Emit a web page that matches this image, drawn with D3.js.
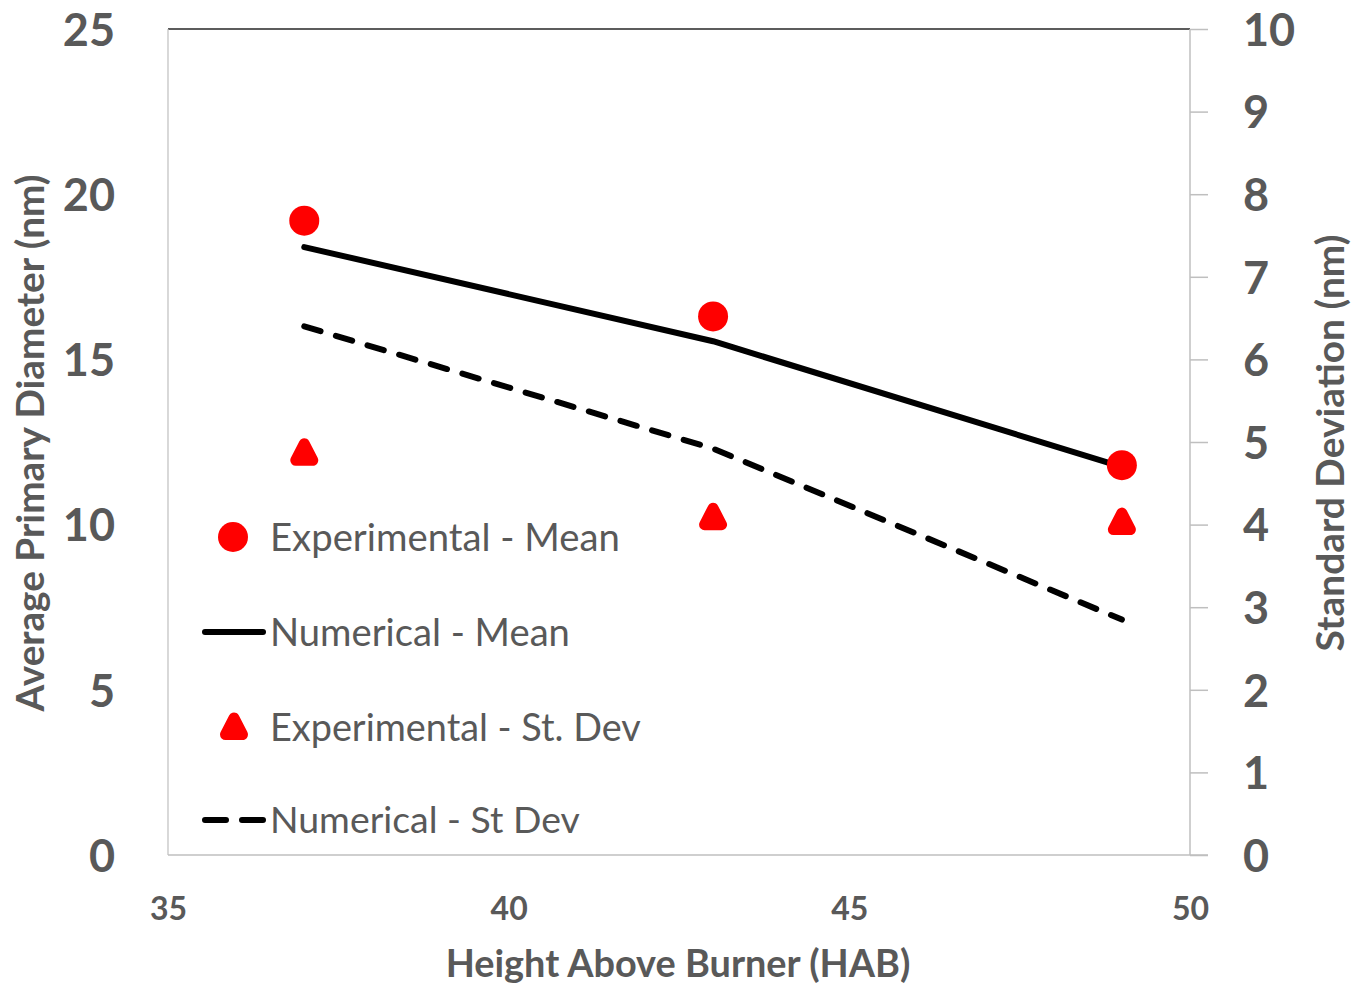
<!DOCTYPE html>
<html><head><meta charset="utf-8">
<script src="https://cdn.jsdelivr.net/npm/d3@7"></script>
<style>body{margin:0;background:#fff}svg{display:block}</style>
</head><body>
<svg id="c" width="1364" height="986"></svg>
<script>
// Data
const hab = [37, 43, 49];
const expMean = [19.2, 16.3, 11.8];       // left axis (nm)
const numMean = [18.4, 15.55, 11.75];     // left axis (nm)
const expStd = [4.87, 4.09, 4.03];        // right axis (nm)
const numStd = [6.4, 4.92, 2.85];         // right axis (nm)
const xTicks = [35, 40, 45, 50];
const yLeftTicks = [0, 5, 10, 15, 20, 25];
const yRightTicks = [0,1,2,3,4,5,6,7,8,9,10];
const legendLabels = ["Experimental - Mean", "Numerical - Mean", "Experimental - St. Dev", "Numerical - St Dev"];

const svg = d3.select("#c");
const L = 168, R = 1190, T = 29, B = 855;
const x = d3.scaleLinear().domain([35, 50]).range([L, R]);
const yL = d3.scaleLinear().domain([0, 25]).range([B, T]);
const yR = d3.scaleLinear().domain([0, 10]).range([B, T]);
const txt = "#595959", font = "Lato, 'Open Sans', sans-serif";

function fit(sel, w){ const n = sel.node(); const l = n.getComputedTextLength(); const fs = parseFloat(sel.attr("font-size")); sel.attr("font-size", fs * w / l); }

// frame
svg.append("line").attr("x1", L).attr("x2", R).attr("y1", T).attr("y2", T).attr("stroke", "#262626").attr("stroke-width", 1.5);
svg.append("line").attr("x1", L).attr("x2", L).attr("y1", T).attr("y2", B).attr("stroke", "#bfbfbf").attr("stroke-width", 1.2);

// bottom axis
const gx = svg.append("g").attr("transform", `translate(0,${B})`)
  .call(d3.axisBottom(x).tickValues(xTicks).tickSize(0).tickPadding(49).tickFormat(d3.format("d")));
gx.select(".domain").attr("stroke", "#bfbfbf").attr("stroke-width", 1.5).attr("d", `M${L},0H1208`);
gx.selectAll("text").attr("fill", txt).attr("font-family", font).attr("font-weight", "bold").attr("font-size", 32).attr("dy", "0.5em");

// left axis
const gl = svg.append("g").attr("transform", `translate(${L},0)`)
  .call(d3.axisLeft(yL).tickValues(yLeftTicks).tickSize(0).tickPadding(53));
gl.select(".domain").remove();
gl.selectAll("text").attr("fill", txt).attr("font-family", font).attr("font-weight", "bold").attr("font-size", 45).attr("dy", "0.36em");

// right axis
const gr = svg.append("g").attr("transform", `translate(${R},0)`)
  .call(d3.axisRight(yR).tickValues(yRightTicks).tickSize(18).tickPadding(35));
gr.select(".domain").attr("stroke", "#bfbfbf").attr("stroke-width", 1.5).attr("d", `M0,${T}V${B}`);
gr.selectAll(".tick line").attr("stroke", "#bfbfbf").attr("stroke-width", 1.5);
gr.selectAll("text").attr("fill", txt).attr("font-family", font).attr("font-weight", "bold").attr("font-size", 45).attr("dy", "0.36em");

// axis titles
const tl = svg.append("text").attr("transform", "translate(44,443) rotate(-90)").attr("text-anchor", "middle")
  .attr("fill", txt).attr("font-family", font).attr("font-weight", "bold").attr("font-size", 30).text("Average Primary Diameter (nm)");
fit(tl, 537);
const tr = svg.append("text").attr("transform", "translate(1344,443) rotate(-90)").attr("text-anchor", "middle")
  .attr("fill", txt).attr("font-family", font).attr("font-weight", "bold").attr("font-size", 30).text("Standard Deviation (nm)");
fit(tr, 417);
const tb = svg.append("text").attr("x", 678).attr("y", 977).attr("text-anchor", "middle")
  .attr("fill", txt).attr("font-family", font).attr("font-weight", "bold").attr("font-size", 30).text("Height Above Burner (HAB)");
fit(tb, 465);

// series
const lineL = d3.line().x((d, i) => x(hab[i])).y(d => yL(d));
const lineR = d3.line().x((d, i) => x(hab[i])).y(d => yR(d));
svg.append("path").attr("d", lineL(numMean)).attr("fill", "none").attr("stroke", "#000").attr("stroke-width", 6).attr("stroke-linecap", "round").attr("stroke-linejoin", "round");
svg.append("path").attr("d", lineR(numStd)).attr("fill", "none").attr("stroke", "#000").attr("stroke-width", 6).attr("stroke-linecap", "round").attr("stroke-linejoin", "round").attr("stroke-dasharray", "17,16");

const tri = "M0,-9L8.5,7.5L-8.5,7.5Z";
svg.selectAll(".em").data(expMean).join("circle").attr("cx", (d, i) => x(hab[i])).attr("cy", d => yL(d)).attr("r", 15).attr("fill", "#ff0000");
svg.selectAll(".es").data(expStd).join("path").attr("d", tri).attr("transform", (d, i) => `translate(${x(hab[i])},${yR(d)})`)
  .attr("fill", "#ff0000").attr("stroke", "#ff0000").attr("stroke-width", 11).attr("stroke-linejoin", "round");

// legend
const ly = [537, 632, 727, 820];
const lg = svg.append("g");
lg.append("circle").attr("cx", 233).attr("cy", ly[0]).attr("r", 15).attr("fill", "#ff0000");
lg.append("line").attr("x1", 205).attr("x2", 263).attr("y1", ly[1]).attr("y2", ly[1]).attr("stroke", "#000").attr("stroke-width", 6).attr("stroke-linecap", "round");
lg.append("path").attr("d", tri).attr("transform", `translate(234,${ly[2]})`).attr("fill", "#ff0000").attr("stroke", "#ff0000").attr("stroke-width", 11).attr("stroke-linejoin", "round");
lg.append("line").attr("x1", 205).attr("x2", 263).attr("y1", ly[3]).attr("y2", ly[3]).attr("stroke", "#000").attr("stroke-width", 6).attr("stroke-linecap", "round").attr("stroke-dasharray", "21,16");
const lwidths = [350, 300, 371, 310];
legendLabels.forEach((t, i) => {
  const s = lg.append("text").attr("x", 270).attr("y", ly[i]).attr("dy", "0.36em").attr("fill", txt)
    .attr("font-family", font).attr("font-size", 34).text(t);
  fit(s, lwidths[i]);
});
</script>
</body></html>
